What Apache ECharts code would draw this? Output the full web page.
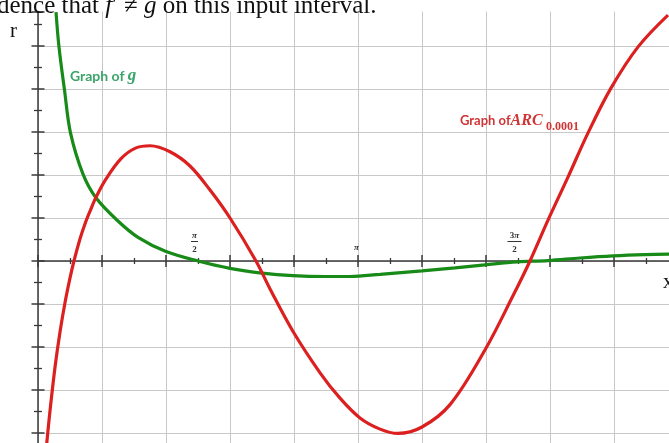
<!DOCTYPE html>
<html>
<head>
<meta charset="utf-8">
<script src="https://cdn.jsdelivr.net/npm/echarts@6/dist/echarts.min.js"></script>
<style>
  html, body { margin: 0; padding: 0; background: #fff; overflow: hidden; }
  #chart { width: 669px; height: 443px; }
</style>
</head>
<body>
<div id="chart"></div>
<script>
// Input values x (radians) and the two curves.
const gX = [0.177, 0.206, 0.260, 0.319, 0.442, 0.569, 0.785, 0.982, 1.257, 1.571, 1.885, 2.199, 2.503, 2.818, 3.063, 3.358, 3.770, 4.094, 4.388, 4.703, 5.007, 5.321, 5.645, 5.959, 6.195];
const gY = [5.79, 4.98, 3.98, 2.98, 2.02, 1.47, 0.93, 0.55, 0.22, 0, -0.17, -0.28, -0.34, -0.36, -0.36, -0.31, -0.23, -0.16, -0.09, -0.02, 0.01, 0.07, 0.12, 0.15, 0.16];

const arcX = [0.074, 0.088, 0.118, 0.167, 0.216, 0.265, 0.314, 0.353, 0.412, 0.461, 0.511, 0.569, 0.668, 0.815, 0.952, 1.100, 1.296, 1.492, 1.689, 1.885, 2.140, 2.278, 2.504, 2.769, 2.965, 3.161, 3.358, 3.534, 3.770, 4.045, 4.388, 4.663, 4.830, 5.007, 5.203, 5.400, 5.625, 5.891, 6.185];
const arcY = [-4.58, -4.19, -3.48, -2.47, -1.65, -0.97, -0.40, 0, 0.51, 0.86, 1.16, 1.48, 1.91, 2.38, 2.62, 2.68, 2.54, 2.21, 1.65, 1.00, 0, -0.65, -1.64, -2.60, -3.19, -3.65, -3.91, -4.01, -3.86, -3.34, -2.07, -0.81, 0, 0.95, 1.95, 2.98, 4.02, 4.98, 5.72];

// Tick labels written as multiples of pi over the x axis.
const piTickX = [Math.PI / 2, Math.PI, 3 * Math.PI / 2];
const piTickCoef = ['', '', '3'];
const piTickDen = ['2', '', '2'];

const X_MIN = 0, X_MAX = 2 * Math.PI, X_STEP = Math.PI / 5;
const Y_MIN = -5, Y_MAX = 5.8, Y_STEP = 1;

const AXIS_COLOR = '#3a3a3a';
const GRID_COLOR = '#c8c8c8';
const G_COLOR = '#178a17';
const ARC_COLOR = '#dc1f1f';

const chart = echarts.init(document.getElementById('chart'), null, { renderer: 'canvas' });

function xAxisDef(primary) {
  return {
    type: 'value', min: X_MIN, max: X_MAX, interval: X_STEP,
    position: 'bottom',
    axisLine: { show: primary, onZero: true, onZeroAxisIndex: 0, lineStyle: { color: AXIS_COLOR, width: 1.5 } },
    axisTick: { show: true, inside: !primary, length: 6, lineStyle: { color: AXIS_COLOR, width: 1.5 } },
    minorTick: { show: true, splitNumber: 2, length: 3, lineStyle: { color: AXIS_COLOR, width: 1.3 } },
    splitLine: { show: primary, showMaxLine: false, lineStyle: { color: GRID_COLOR, width: 1 } },
    minorSplitLine: { show: false },
    axisLabel: { show: false }
  };
}

function yAxisDef(primary) {
  return {
    type: 'value', min: Y_MIN, max: Y_MAX, interval: Y_STEP,
    position: 'left',
    axisLine: { show: primary, onZero: false, lineStyle: { color: AXIS_COLOR, width: 1.5 } },
    axisTick: { show: true, inside: !primary, length: 6.5, lineStyle: { color: AXIS_COLOR, width: 1.5 } },
    minorTick: { show: true, splitNumber: 2, length: 4, lineStyle: { color: AXIS_COLOR, width: 1.3 } },
    splitLine: { show: primary, showMaxLine: false, lineStyle: { color: GRID_COLOR, width: 1 } },
    minorSplitLine: { show: false },
    axisLabel: { show: false }
  };
}

const labelFont = { fontFamily: 'Liberation Serif', fontWeight: 'bold', fontSize: 9 };

const option = {
  animation: false,
  backgroundColor: '#ffffff',
  grid: { left: 38, right: -9, top: 11.6, bottom: -33, containLabel: false, outerBoundsMode: 'none' },
  xAxis: [xAxisDef(true), xAxisDef(false)],
  yAxis: [yAxisDef(true), yAxisDef(false)],
  series: [
    {
      name: 'g', type: 'line', xAxisIndex: 0, yAxisIndex: 0,
      data: gX.map((x, i) => [x, gY[i]]),
      smooth: 0.35, showSymbol: false, clip: true, silent: true,
      lineStyle: { color: G_COLOR, width: 3.2 }, z: 3
    },
    {
      name: 'ARC', type: 'line', xAxisIndex: 0, yAxisIndex: 0,
      data: arcX.map((x, i) => [x, arcY[i]]),
      smooth: 0.35, showSymbol: false, clip: true, silent: true,
      lineStyle: { color: ARC_COLOR, width: 3.2 }, z: 4
    },
    {
      name: 'piTicks', type: 'custom', xAxisIndex: 0, yAxisIndex: 0,
      data: piTickX.map((x, i) => [x, 0, i]),
      silent: true, z: 5,
      renderItem(params, api) {
        const i = api.value(2);
        const p = api.coord([api.value(0), 0]);
        const coef = piTickCoef[i];
        const den = piTickDen[i];
        const numText = coef ? '{c|' + coef + '}{p|π}' : '{p|π}';
        const rich = {
          c: Object.assign({}, labelFont, { fill: '#333' }),
          p: Object.assign({}, labelFont, { fontStyle: 'italic', fill: '#333' })
        };
        if (!den) {
          return {
            type: 'text', x: p[0] - 1.5, y: p[1] - 13.5,
            style: { text: numText, rich: rich, align: 'center', verticalAlign: 'middle' }
          };
        }
        const cx = p[0] - 3.5;
        const w = coef ? 14 : 7;
        return {
          type: 'group',
          children: [
            { type: 'text', x: cx, y: p[1] - 25.5,
              style: { text: numText, rich: rich, align: 'center', verticalAlign: 'middle' } },
            { type: 'line', shape: { x1: cx - w / 2, y1: p[1] - 19.5, x2: cx + w / 2, y2: p[1] - 19.5 },
              style: { stroke: '#333', lineWidth: 1 } },
            { type: 'text', x: cx, y: p[1] - 11.5,
              style: Object.assign({ text: den, fill: '#333', align: 'center', verticalAlign: 'middle' }, labelFont) }
          ]
        };
      }
    }
  ],
  graphic: [
    {
      type: 'text', x: -3, y: 6, z: 10,
      style: {
        text: '{r|dence that }{i|f}{r|′ ≠ }{i|g}{r| on this input interval.}',
        verticalAlign: 'middle',
        rich: {
          r: { fontFamily: 'Liberation Serif', fontSize: 25, fill: '#111' },
          i: { fontFamily: 'Liberation Serif', fontSize: 25, fontStyle: 'italic', fill: '#111' }
        }
      }
    },
    {
      type: 'text', x: 10, y: 31, z: 10,
      style: { text: 'r', fontFamily: 'Liberation Serif', fontSize: 21, fill: '#111', verticalAlign: 'middle' }
    },
    {
      type: 'text', x: 663, y: 282, z: 10,
      style: { text: 'x', fontFamily: 'Liberation Serif', fontSize: 21, fill: '#111', verticalAlign: 'middle' }
    },
    {
      type: 'text', x: 70, y: 76, z: 10,
      style: {
        text: '{a|Graph of }{b|g}',
        verticalAlign: 'middle',
        rich: {
          a: { fontFamily: 'Lato', fontWeight: 'bold', fontSize: 14, fill: '#3aa56a' },
          b: { fontFamily: 'Liberation Serif', fontWeight: 'bold', fontStyle: 'italic', fontSize: 17, fill: '#3aa56a' }
        }
      }
    },
    {
      type: 'text', x: 460, y: 121, z: 10,
      style: {
        text: '{a|Graph of}{b|ARC}',
        verticalAlign: 'middle',
        rich: {
          a: { fontFamily: 'Lato', fontWeight: 'bold', fontSize: 13, fill: '#cf3535' },
          b: { fontFamily: 'Liberation Serif', fontWeight: 'bold', fontStyle: 'italic', fontSize: 16, fill: '#cf3535' }
        }
      }
    },
    {
      type: 'text', x: 546, y: 126.5, z: 10,
      style: { text: '0.0001', fontFamily: 'Liberation Serif', fontWeight: 'bold', fontSize: 12, fill: '#cf3535', verticalAlign: 'middle' }
    }
  ]
};

chart.setOption(option);
</script>
</body>
</html>
